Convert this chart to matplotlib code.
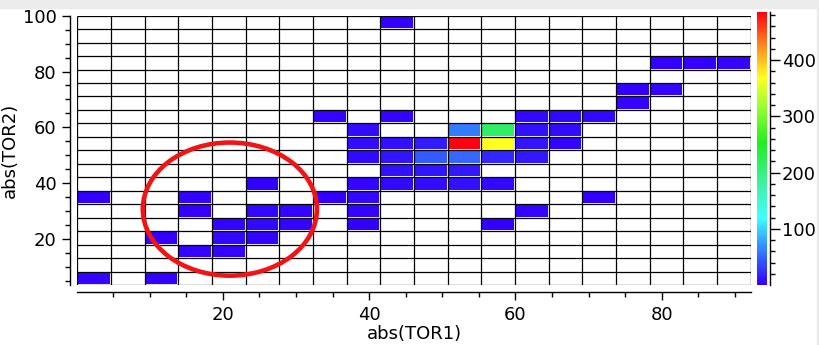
import numpy as np
import matplotlib
matplotlib.use("Agg")
import matplotlib.pyplot as plt
from matplotlib.colors import LinearSegmentedColormap
from matplotlib.patches import Ellipse, Rectangle
from matplotlib.ticker import MultipleLocator

# --- histogram layout (20 x 20 bins over the data range) ---
n_bins = 20
tor1_range = (0.12, 92.15)
tor2_range = (3.5, 100.0)

# occupied bins: column (TOR1 bin), row (TOR2 bin), count
bin_col = [0, 0, 2, 2, 3, 3, 3, 4, 4, 4, 5, 5, 5, 5, 6, 6, 7, 7,
           8, 8, 8, 8, 8, 8, 8, 9, 9, 9, 9, 9, 9,
           10, 10, 10, 10, 11, 11, 11, 11, 11,
           12, 12, 12, 12, 12, 13, 13, 13, 13, 13,
           14, 14, 14, 15, 15, 16, 16, 17, 17, 18, 19]
bin_row = [0, 6, 0, 3, 2, 5, 6, 2, 3, 4, 3, 4, 5, 7, 4, 5, 6, 12,
           4, 5, 6, 7, 9, 10, 11, 7, 8, 9, 10, 12, 19,
           7, 8, 9, 10, 7, 8, 9, 10, 11,
           4, 7, 9, 10, 11, 5, 9, 10, 11, 12,
           10, 11, 12, 6, 12, 13, 14, 14, 16, 16, 16]
bin_count = [3, 2, 1, 2, 3, 2, 3, 4, 5, 3, 4, 6, 5, 2, 3, 4, 2, 3,
             2, 4, 6, 3, 5, 8, 7, 6, 9, 12, 10, 3, 1,
             8, 12, 45, 16, 9, 14, 52, 486, 60,
             2, 6, 20, 370, 215, 3, 14, 11, 10, 6,
             4, 7, 5, 2, 6, 3, 2, 3, 2, 2, 3]

cbar_major = [100, 200, 300, 400]

# colour ramp (position, colour)
cmap_stops = [(0.0, "#3300ff"), (0.08, "#3350ff"), (0.15, "#3399ff"),
              (0.245, "#40ffff"), (0.37, "#40f0a0"), (0.52, "#20ee20"),
              (0.66, "#a0ff30"), (0.76, "#ffff20"), (0.87, "#ff9020"),
              (1.0, "#ff0010")]

# ellipse annotation (data coords)
circle_center = (20.97, 30.7)
circle_size = (23.8, 47.7)

# --- build the grid ---
x_edges = np.linspace(tor1_range[0], tor1_range[1], n_bins + 1)
y_edges = np.linspace(tor2_range[0], tor2_range[1], n_bins + 1)
grid = np.zeros((n_bins, n_bins))
for c, r, v in zip(bin_col, bin_row, bin_count):
    grid[r, c] = v
grid = np.ma.masked_equal(grid, 0)

cmap = LinearSegmentedColormap.from_list("rainbow_hist", cmap_stops)

plt.rcParams["font.family"] = ["DejaVu Sans"]
plt.rcParams["font.size"] = 13

fig = plt.figure(figsize=(8.19, 3.45), dpi=100)
fig.patches.append(Rectangle((0, 1 - 7.5 / 345), 1, 7.5 / 345,
                             transform=fig.transFigure, color="#ebebeb", zorder=0))
fig.patches.append(Rectangle((1 - 2.0 / 819, 0), 2.0 / 819, 1,
                             transform=fig.transFigure, color="#ebebeb", zorder=0))

ax = fig.add_axes([0.0944, 0.1739, 0.8222, 0.7806])
cax = fig.add_axes([0.924, 0.1748, 0.0122, 0.7913])

mesh = ax.pcolormesh(x_edges, y_edges, grid, cmap=cmap,
                     vmin=min(bin_count), vmax=max(bin_count),
                     edgecolors="white", linewidth=1.3, zorder=2)
ax.vlines(x_edges, y_edges[0], y_edges[-1], colors="black", linewidth=0.9, zorder=3)
ax.hlines(y_edges, x_edges[0], x_edges[-1], colors="black", linewidth=0.9, zorder=3)

ax.add_patch(Ellipse(circle_center, circle_size[0], circle_size[1], fill=False,
                     edgecolor="#f21414", linewidth=3.3, zorder=5, clip_on=False))

ax.set_xlim(x_edges[0], x_edges[-1])
ax.set_ylim(y_edges[0], y_edges[-1])
ax.xaxis.set_major_locator(MultipleLocator(20))
ax.xaxis.set_minor_locator(MultipleLocator(5))
ax.yaxis.set_major_locator(MultipleLocator(20))
ax.yaxis.set_minor_locator(MultipleLocator(5))
for side in ["top", "right"]:
    ax.spines[side].set_visible(False)
for side in ["left", "bottom"]:
    ax.spines[side].set_position(("outward", 5))
    ax.spines[side].set_linewidth(1.0)
ax.tick_params(which="major", direction="out", length=6, width=1, pad=4)
ax.tick_params(which="minor", direction="out", length=3.5, width=1)
ax.set_xlabel("abs(TOR1)", labelpad=1)
ax.set_ylabel("abs(TOR2)", labelpad=3)

# colour bar
cb = fig.colorbar(mesh, cax=cax)
cb.outline.set_visible(False)
cax.spines["right"].set_visible(True)
cax.spines["right"].set_position(("outward", 2))
cax.spines["right"].set_linewidth(1.0)
cb.set_ticks(cbar_major)
cax.yaxis.set_minor_locator(MultipleLocator(20))
cax.tick_params(which="major", direction="out", length=7, width=1, pad=2)
cax.tick_params(which="minor", direction="out", length=3.5, width=1)

fig.savefig("out.png", dpi=100)
